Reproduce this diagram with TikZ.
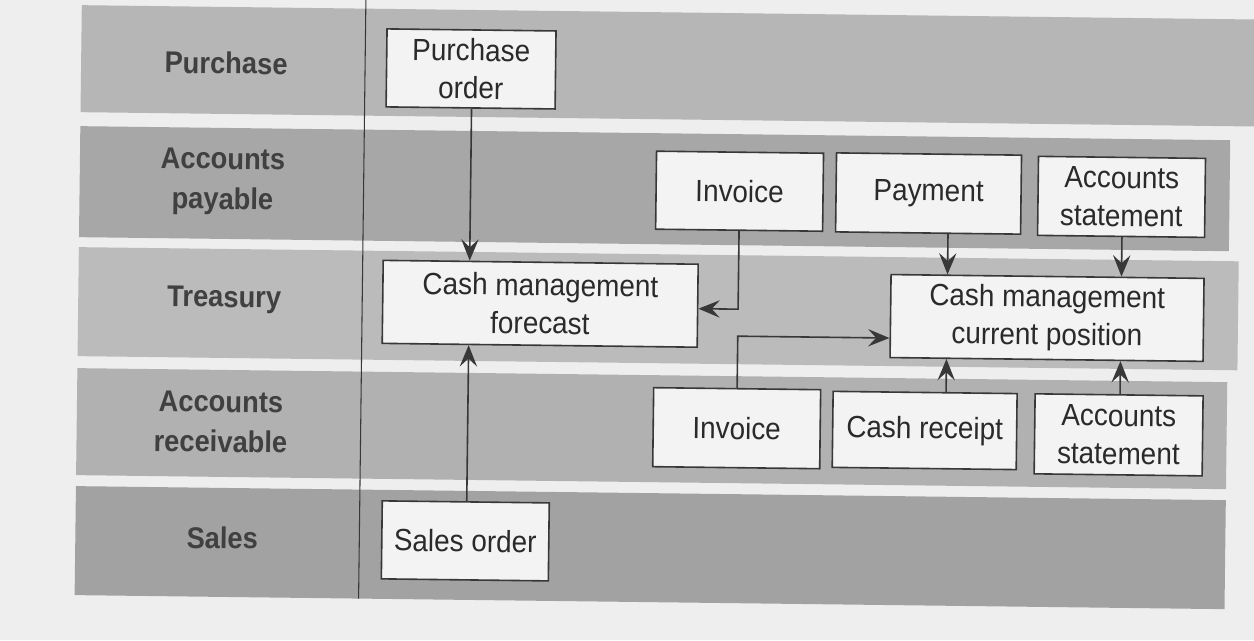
\documentclass[tikz,border=0pt]{standalone}
\usepackage{fontspec}
\setmainfont{Liberation Sans}[FakeStretch=0.91]
\usetikzlibrary{arrows.meta,calc}
\definecolor{paper}{HTML}{EEEEEE}
\definecolor{bandA}{HTML}{B6B6B6}
\definecolor{bandB}{HTML}{A7A7A7}
\definecolor{bandC}{HTML}{BBBBBB}
\definecolor{bandD}{HTML}{B1B1B1}
\definecolor{bandE}{HTML}{A2A2A2}
\definecolor{linec}{HTML}{383838}
\definecolor{boxfill}{HTML}{F3F3F3}
\definecolor{textc}{HTML}{2A2A2A}
\definecolor{labc}{HTML}{404040}
\tikzset{
  box/.style={draw=linec, line width=1.2pt, fill=boxfill, align=center, text=textc,
    font=\fontsize{23}{28.5}\selectfont, inner sep=0pt},
  lane/.style={font=\bfseries\fontsize{22.5}{30}\selectfont, text=labc, align=center},
  arr/.style={draw=linec, line width=1.2pt, -{Stealth[length=16pt,width=13pt,inset=6pt]}}
}
\begin{document}
\begin{tikzpicture}[x=0.75pt,y=-0.75pt]
\useasboundingbox (0,0) rectangle (1254,640);
\fill[paper] (0,0) rectangle (1254,640);
\begin{scope}[rotate around={-0.7:(640,320)}, transform shape]
% swim lanes
\fill[bandA] (78,12) rectangle (1275,119);
\fill[bandB] (78,133) rectangle (1228,244);
\fill[bandC] (78,254) rectangle (1238,363);
\fill[bandD] (78,375) rectangle (1228,482);
\fill[bandE] (78,493) rectangle (1228,602);
% divider
\draw[linec, line width=0.8pt] (362,-8) -- (362,602);
% lane labels
\node[lane] (lP) at (223,68) {Purchase};
\node[lane] (lAP) at (221,187) {Accounts\\payable};
\node[lane] (lT) at (224,305) {Treasury};
\node[lane] (lAR) at (222,427) {Accounts\\receivable};
\node[lane] (lS) at (225,543) {Sales};
% boxes
\node[box, minimum width=126.75pt, minimum height=58.5pt] (po) at (468,71) {Purchase\\order};
\node[box, minimum width=125.25pt, minimum height=58.5pt] (apinv) at (738,190) {Invoice};
\node[box, minimum width=138.75pt, minimum height=59.25pt] (pay) at (927,190) {Payment};
\node[box, minimum width=125.25pt, minimum height=59.25pt] (apst) at (1120,191) {Accounts\\statement};
\node[box, minimum width=236.25pt, minimum height=62.25pt] (cmf) at (540,305) {Cash management\\forecast};
\node[box, minimum width=234.75pt, minimum height=62.25pt] (cmcp) at (1047,313) {Cash management\\current position};
\node[box, minimum width=125.25pt, minimum height=59.25pt] (arinv) at (738,427) {Invoice};
\node[box, minimum width=138pt, minimum height=57pt] (cr) at (926,427) {Cash receipt};
\node[box, minimum width=126pt, minimum height=60pt] (arst) at (1120,429) {Accounts\\statement};
\node[box, minimum width=125.25pt, minimum height=58.5pt] (so) at (468,543) {Sales order};
% guide coordinates
\coordinate (xf) at (469,0);
\coordinate (xp) at (947,0);
\coordinate (xc) at (947,0);
\coordinate (xs) at (1121,0);
\coordinate (xi) at (738,0);
\coordinate (yi) at (0,308);
\coordinate (yr) at (0,335);
% connectors
\draw[arr] (po.south -| xf) -- (cmf.north -| xf);
\draw[arr] (so.north -| xf) -- (cmf.south -| xf);
\draw[arr] (apinv.south -| xi) |- (cmf.east |- yi);
\draw[arr] (pay.south -| xp) -- (cmcp.north -| xp);
\draw[arr] (apst.south -| xs) -- (cmcp.north -| xs);
\draw[arr] (arinv.north -| xi) |- (cmcp.west |- yr);
\draw[arr] (cr.north -| xc) -- (cmcp.south -| xc);
\draw[arr] (arst.north -| xs) -- (cmcp.south -| xs);
\end{scope}
\end{tikzpicture}
\end{document}
